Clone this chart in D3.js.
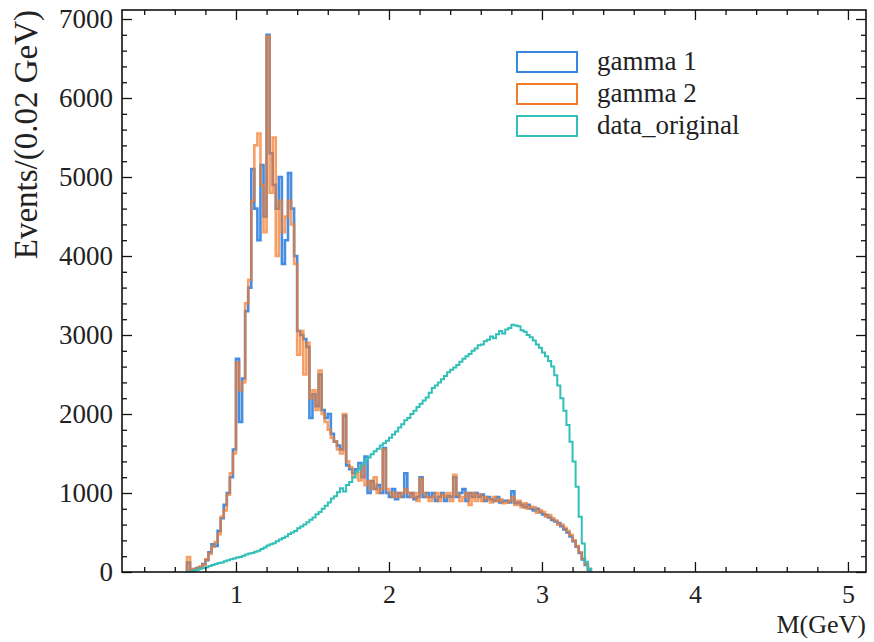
<!DOCTYPE html>
<html>
<head>
<meta charset="utf-8">
<script src="https://cdn.jsdelivr.net/npm/d3@7"></script>
<style>
  html, body { margin: 0; padding: 0; background: #fff; }
  svg { display: block; }
  text { font-family: "Liberation Serif", "DejaVu Serif", serif; fill: #222; }
</style>
</head>
<body>
<svg id="chart" width="874" height="642"></svg>
<script>
// Histogram binning (GeV)
const binStart = 0.68;
const binWidth = 0.02;

// Bin contents, one value per 0.02 GeV bin starting at 0.68 GeV
const gamma1 = [
  120, 20, 30, 50, 60, 100, 150, 250, 350, 330, 520, 680, 850, 1000, 1200, 1550,
  2700, 1900, 2450, 3300, 3600, 5100, 4600, 4200, 5150, 4500, 6800, 5300, 4900, 4600, 5000, 3900, 4200, 5050, 4600, 4000,
  3050, 3000, 2950, 2850, 1950, 2250, 2100, 2500, 2050, 1950, 2000, 1750, 1650, 1600, 1550, 1980, 1350, 1300, 1250, 1300,
  1380, 1200, 1460, 1000, 1150, 1050, 1100, 1000, 1570, 1000, 950, 1050, 920, 1000, 950, 1250, 950, 1000, 920, 950,
  1200, 950, 1000, 950, 1000, 900, 950, 1000, 900, 960, 950, 1200, 950, 1000, 1050, 900, 1000, 950, 1000, 950,
  980, 900, 950, 920, 900, 950, 880, 900, 900, 880, 1020, 870, 880, 850, 820, 850, 800, 780, 800, 760,
  730, 720, 690, 660, 640, 620, 580, 540, 500, 450, 390, 320, 240, 160, 90, 30
];
const gamma2 = [
  190, 30, 40, 40, 70, 90, 160, 230, 320, 380, 480, 700, 780, 980, 1250, 1500,
  2650, 2300, 2400, 3400, 3700, 4700, 5400, 5550, 4900, 4300, 6780, 4800, 5500, 4000, 4700, 4300, 4500, 4700, 4400, 3900,
  2750, 3050, 2500, 2900, 2200, 2300, 2050, 2550, 2000, 1900, 1800, 1700, 1650, 1550, 1500, 2000, 1400, 1330, 1200, 1250,
  1160, 1350, 1100, 1150, 1050, 1200, 1000, 1050, 1550, 1050, 1000, 950, 1000, 950, 1000, 1050, 1000, 950, 1000, 900,
  1180, 1000, 950, 900, 950, 1000, 900, 980, 950, 1000, 900, 1230, 980, 900, 950, 1000, 850, 1000, 900, 980,
  900, 950, 920, 880, 950, 900, 920, 870, 880, 900, 950, 850, 900, 820, 870, 800, 830, 820, 750, 780,
  760, 700, 720, 680, 650, 600, 600, 560, 520, 470, 400, 330, 250, 170, 100, 40
];
const dataOriginal = [
  0, 10, 20, 30, 40, 50, 60, 75, 90, 100, 115, 120, 135, 150, 160, 170,
  185, 190, 205, 220, 235, 240, 255, 270, 290, 310, 335, 350, 365, 390, 410, 430, 450, 480, 500, 520,
  555, 575, 600, 630, 660, 690, 730, 760, 800, 840, 880, 930, 960, 1010, 1060, 1020, 1100, 1140, 1200, 1270,
  1310, 1360, 1420, 1450, 1490, 1530, 1560, 1600, 1630, 1660, 1700, 1740, 1780, 1830, 1870, 1920, 1950, 2000, 2040, 2090,
  2130, 2170, 2210, 2270, 2330, 2360, 2400, 2440, 2480, 2530, 2560, 2590, 2620, 2660, 2700, 2730, 2760, 2800, 2830, 2870,
  2880, 2920, 2940, 2980, 2960, 3010, 3050, 3020, 3070, 3090, 3130, 3120, 3110, 3060, 3040, 3000, 2970, 2930, 2880, 2840,
  2780, 2730, 2670, 2600, 2490, 2360, 2200, 2040, 1860, 1650, 1400, 1080, 700, 360, 130, 40
];

// Axis ticks
const xTicks = [1, 2, 3, 4, 5];
const yTicks = [0, 1000, 2000, 3000, 4000, 5000, 6000, 7000];

const seriesNames = ["gamma 1", "gamma 2", "data_original"];
const seriesColors = ["#3a87e0", "#f27a2c", "#30c0b8"];

const svg = d3.select("#chart");
const plot = { left: 122, top: 10, right: 866, bottom: 572 };

const x = d3.scaleLinear().domain([0.255, 5.118]).range([plot.left, plot.right]);
const y = d3.scaleLinear().domain([0, 7114]).range([plot.bottom, plot.top]);

// Step outline of a histogram: from baseline up through every bin and back down
function stepPoints(values) {
  const pts = [[binStart, 0]];
  values.forEach((v, i) => pts.push([binStart + i * binWidth, v]));
  const end = binStart + values.length * binWidth;
  pts.push([end, values[values.length - 1]]);
  pts.push([end, 0]);
  return pts;
}
const stepLine = d3.line()
  .x(d => x(d[0]))
  .y(d => y(d[1]))
  .curve(d3.curveStepAfter);

svg.append("clipPath").attr("id", "plotClip")
  .append("rect")
  .attr("x", plot.left).attr("y", plot.top)
  .attr("width", plot.right - plot.left).attr("height", plot.bottom - plot.top);

const g = svg.append("g").attr("clip-path", "url(#plotClip)");

g.append("path")
  .attr("d", stepLine(stepPoints(gamma1)))
  .attr("fill", "none").attr("stroke", seriesColors[0])
  .attr("stroke-width", 2.6).attr("stroke-opacity", 0.95);
g.append("path")
  .attr("d", stepLine(stepPoints(gamma2)))
  .attr("fill", "none").attr("stroke", seriesColors[1])
  .attr("stroke-width", 2.6).attr("stroke-opacity", 0.72);
g.append("path")
  .attr("d", stepLine(stepPoints(dataOriginal)))
  .attr("fill", "none").attr("stroke", seriesColors[2])
  .attr("stroke-width", 2);

// Axes: major and minor ticks pointing inward on all four sides
const xMinor = d3.range(0.4, 5.11, 0.2).filter(t => Math.abs(t - Math.round(t)) > 1e-6);
const yMinor = d3.range(200, 7100, 200).filter(t => t % 1000 !== 0);

function drawAxis(axisGen, tr, showLabels) {
  const a = svg.append("g").attr("transform", tr).call(axisGen);
  a.select(".domain").remove();
  a.selectAll(".tick line").attr("stroke", "#111").attr("stroke-width", 1.3);
  if (!showLabels) a.selectAll(".tick text").remove();
  return a;
}

// bottom
drawAxis(d3.axisBottom(x).tickValues(xMinor).tickSize(-5).tickFormat(""), `translate(0,${plot.bottom})`, false);
const xb = drawAxis(d3.axisBottom(x).tickValues(xTicks).tickSize(-10).tickPadding(13).tickFormat(d3.format("d")), `translate(0,${plot.bottom})`, true);
xb.selectAll(".tick text").attr("font-size", 26).attr("fill", "#222")
  .style("font-family", "'Liberation Serif', serif");
// top
drawAxis(d3.axisTop(x).tickValues(xMinor).tickSize(-5), `translate(0,${plot.top})`, false);
drawAxis(d3.axisTop(x).tickValues(xTicks).tickSize(-10), `translate(0,${plot.top})`, false);
// left
drawAxis(d3.axisLeft(y).tickValues(yMinor).tickSize(-5).tickFormat(""), `translate(${plot.left},0)`, false);
const yl = drawAxis(d3.axisLeft(y).tickValues(yTicks).tickSize(-10).tickPadding(9).tickFormat(d3.format("d")), `translate(${plot.left},0)`, true);
yl.selectAll(".tick text").attr("font-size", 27).attr("fill", "#222")
  .style("font-family", "'Liberation Serif', serif");
// right
drawAxis(d3.axisRight(y).tickValues(yMinor).tickSize(-5), `translate(${plot.right},0)`, false);
drawAxis(d3.axisRight(y).tickValues(yTicks).tickSize(-10), `translate(${plot.right},0)`, false);

// frame
svg.append("rect")
  .attr("x", plot.left).attr("y", plot.top)
  .attr("width", plot.right - plot.left).attr("height", plot.bottom - plot.top)
  .attr("fill", "none").attr("stroke", "#111").attr("stroke-width", 1.6);

// axis titles
svg.append("text")
  .attr("x", plot.right).attr("y", 633)
  .attr("text-anchor", "end").attr("font-size", 26)
  .text("M(GeV)");
svg.append("text")
  .attr("transform", `translate(37,${plot.top}) rotate(-90)`)
  .attr("text-anchor", "end").attr("font-size", 33)
  .text("Events/(0.02 GeV)");

// legend
const legend = svg.append("g").attr("transform", "translate(517,52)");
seriesNames.forEach((name, i) => {
  const row = legend.append("g").attr("transform", `translate(0,${i * 32})`);
  row.append("rect")
    .attr("x", 0).attr("y", 0).attr("width", 60).attr("height", 20)
    .attr("fill", "none").attr("stroke", seriesColors[i]).attr("stroke-width", 2);
  row.append("text")
    .attr("x", 80).attr("y", 18).attr("font-size", 27)
    .text(name);
});
</script>
</body>
</html>
